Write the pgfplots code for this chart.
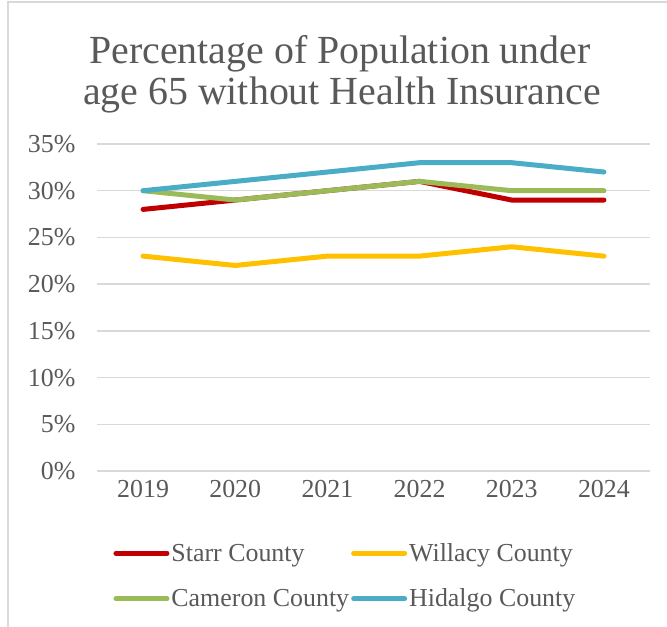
\documentclass[border=0pt]{standalone}
\usepackage{fontspec}
\setmainfont{Liberation Serif}
\usepackage{pgfplots}
\pgfplotsset{compat=1.18}
\definecolor{txt}{HTML}{595959}
\definecolor{gridc}{HTML}{D9D9D9}
\definecolor{starr}{HTML}{C00000}
\definecolor{willacy}{HTML}{FFC000}
\definecolor{cameron}{HTML}{9BBB59}
\definecolor{hidalgo}{HTML}{4BACC6}
\begin{document}
\begin{tikzpicture}
\path[use as bounding box] (0bp,0bp) rectangle (667bp,627bp);
\draw[color=gridc, line width=2bp] (8bp,0bp) -- (8bp,625bp) -- (667bp,625bp);
\node[anchor=base, font=\fontsize{40}{40}\selectfont, text=txt] at (340bp,563bp) {Percentage of Population under};
\node[anchor=base, font=\fontsize{40}{40}\selectfont, text=txt] at (342bp,522bp) {age 65 without Health Insurance};
\begin{axis}[
  at={(97bp,156bp)}, anchor=south west,
  scale only axis, width=553bp, height=327bp,
  xmin=-0.5, xmax=5.5, ymin=0, ymax=35,
  xtick={0,1,2,3,4,5}, xticklabels={2019,2020,2021,2022,2023,2024},
  ytick={0,5,10,15,20,25,30,35},
  yticklabel={\pgfmathprintnumber[assume math mode=true]{\tick}\%},
  ymajorgrids, grid style={color=gridc, line width=1.5bp},
  axis line style={draw=none}, major tick style={draw=none},
  ticklabel style={font=\fontsize{26}{26}\selectfont, text=txt},
  yticklabel style={xshift=-18bp},
  xticklabel style={yshift=-6bp},
  legend columns=2,
  legend style={at={(0.024,-0.209)}, anchor=north west, draw=none, fill=none,
    font=\fontsize{26}{26}\selectfont, text=txt,
    /tikz/every even column/.append style={column sep=0bp},
    row sep=22bp},
  legend cell align=left,
  legend image code/.code={\draw[#1] (0bp,0bp) -- (51bp,0bp);},
  every axis plot/.append style={line width=5bp, line join=round, line cap=round},
]
\addplot[color=starr] coordinates {(0,28) (1,29) (2,30) (3,31) (4,29) (5,29)};
\addlegendentry{Starr County}
\addplot[color=willacy] coordinates {(0,23) (1,22) (2,23) (3,23) (4,24) (5,23)};
\addlegendentry{Willacy County}
\addplot[color=cameron] coordinates {(0,30) (1,29) (2,30) (3,31) (4,30) (5,30)};
\addlegendentry{Cameron County}
\addplot[color=hidalgo] coordinates {(0,30) (1,31) (2,32) (3,33) (4,33) (5,32)};
\addlegendentry{Hidalgo County}
\end{axis}
\end{tikzpicture}
\end{document}
